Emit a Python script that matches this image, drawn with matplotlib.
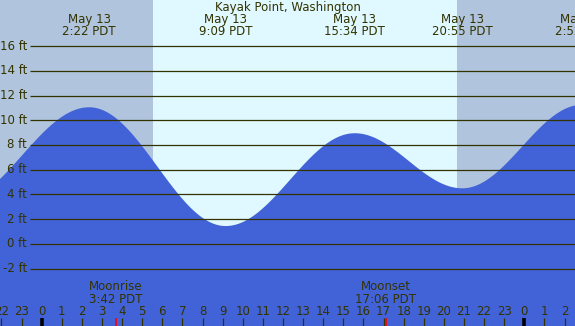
import numpy as np
import matplotlib
matplotlib.use("Agg")
import matplotlib.pyplot as plt
import matplotlib.transforms as mtransforms

# ---- data ----
title = "Kayak Point, Washington"
# tide extremes: hours from midnight May 13 (PDT), heights in ft
tide_hours = [-4.3, 2.367, 9.15, 15.567, 20.917, 26.87]
tide_heights = [3.3, 11.05, 1.45, 8.95, 4.5, 11.25]
tide_labels = ["", "May 13\n2:22 PDT", "May 13\n9:09 PDT", "May 13\n15:34 PDT",
               "May 13\n20:55 PDT", "May 14\n2:52 PDT"]
sunrise = 5.53
sunset = 20.65
moon_hours = [3.7, 17.1]
moon_labels = ["Moonrise\n3:42 PDT", "Moonset\n17:06 PDT"]
y_ticks = [-2, 0, 2, 4, 6, 8, 10, 12, 14, 16]
hour_ticks = list(range(-2, 27))

# ---- style ----
X0, X1 = -2.07, 26.52
Y0, Y1 = -6.63, 19.72
NIGHT = "#B0C4DE"
DAY = "#E0F8FF"
SEA = "#4262D8"
INK = "#333300"
FS = 8.5

fig = plt.figure(figsize=(5.75, 3.26), dpi=100)
ax = fig.add_axes([0, 0, 1, 1])
ax.set_xlim(X0, X1)
ax.set_ylim(Y0, Y1)
ax.axis("off")

# sky
ax.axvspan(X0, sunrise, color=NIGHT, lw=0, zorder=0)
ax.axvspan(sunrise, sunset, color=DAY, lw=0, zorder=0)
ax.axvspan(sunset, X1, color=NIGHT, lw=0, zorder=0)

# tide curve: cosine shape between successive extremes
t = np.linspace(X0, X1, 1200)
h = np.zeros_like(t)
for i in range(len(tide_hours) - 1):
    ta, tb = tide_hours[i], tide_hours[i + 1]
    ha, hb = tide_heights[i], tide_heights[i + 1]
    m = (t >= ta) & (t <= tb)
    f = (t[m] - ta) / (tb - ta)
    h[m] = ha + (hb - ha) * (1 - np.cos(np.pi * f)) / 2
ax.fill_between(t, Y0, h, color=SEA, lw=0, zorder=1)

# grid lines and labels
grid_x0 = -0.58
for yv in y_ticks:
    ax.plot([grid_x0, X1], [yv, yv], color=INK, lw=0.9, zorder=2, solid_capstyle="butt")
    ax.text(-0.73, yv, f"{yv} ft", ha="right", va="center", fontsize=FS, color=INK, zorder=3)

# title
ax.text(0.5, 1 - 7.5 / 326, title, transform=ax.transAxes, ha="center", va="center",
        fontsize=FS, color=INK)

# tide time labels
top_tr = mtransforms.blended_transform_factory(ax.transData, ax.transAxes)
for th, lab in zip(tide_hours, tide_labels):
    if lab:
        ax.text(th, 1 - 25.5 / 326, lab, transform=top_tr, ha="center", va="center",
                fontsize=FS, color=INK, linespacing=0.95, zorder=3)

# moon labels
for mh, lab in zip(moon_hours, moon_labels):
    ax.text(mh, 1 - 293 / 326, lab, transform=top_tr, ha="center", va="center",
            fontsize=FS, color=INK, linespacing=0.95, zorder=3)

# hour ticks and labels
tick_len = 8 / 326
for hr in hour_ticks:
    lab = str(hr % 24)
    ax.text(hr, 1 - 311.7 / 326, lab, transform=top_tr, ha="center", va="center",
            fontsize=FS, color=INK, zorder=3)
    if hr % 24 == 0:
        ax.plot([hr, hr], [0, tick_len], transform=top_tr, color="black", lw=2.6,
                solid_capstyle="butt", zorder=3)
    else:
        ax.plot([hr, hr], [0, tick_len], transform=top_tr, color=INK, lw=0.9,
                solid_capstyle="butt", zorder=3)
for mh in moon_hours:
    ax.plot([mh, mh], [0, tick_len], transform=top_tr, color="red", lw=1.2,
            solid_capstyle="butt", zorder=4)

fig.savefig("out.png", dpi=100)
